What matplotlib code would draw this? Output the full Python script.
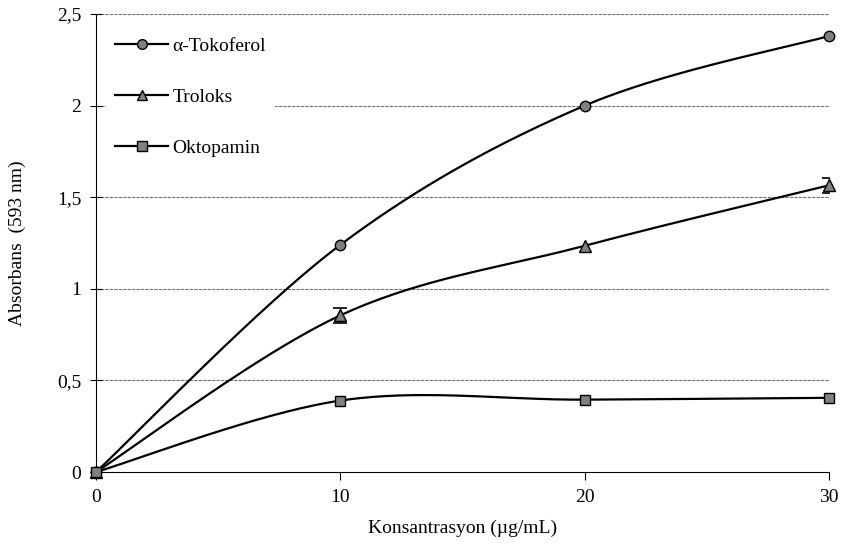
import numpy as np
import matplotlib
matplotlib.use("Agg")
import matplotlib.pyplot as plt
from matplotlib.lines import Line2D

plt.rcParams["font.family"] = ["Liberation Serif", "DejaVu Serif"]

# concentration (ug/mL) and absorbance at 593 nm
konsantrasyon = [0, 10, 20, 30]
tokoferol = [0, 1.24, 2.0, 2.38]
troloks = [0, 0.855, 1.235, 1.565]
troloks_err = [0, 0.04, 0, 0.04]
oktopamin = [0, 0.39, 0.395, 0.405]

y_ticks = [0, 0.5, 1, 1.5, 2, 2.5]
y_labels = ["0", "0,5", "1", "1,5", "2", "2,5"]
x_ticks = [0, 10, 20, 30]


def smooth(x, y, n=60):
    """Catmull-Rom style bezier smoothing (spreadsheet 'smoothed line')."""
    p = np.column_stack([x, y]).astype(float)
    pts = np.vstack([p[0], p, p[-1]])
    out = []
    t = np.linspace(0, 1, n)[:, None]
    for i in range(1, len(pts) - 2):
        p0, p1, p2, p3 = pts[i - 1], pts[i], pts[i + 1], pts[i + 2]
        c1 = p1 + (p2 - p0) / 6
        c2 = p2 - (p3 - p1) / 6
        seg = ((1 - t) ** 3) * p1 + 3 * ((1 - t) ** 2) * t * c1 + 3 * (1 - t) * t ** 2 * c2 + t ** 3 * p2
        out.append(seg if i == 1 else seg[1:])
    s = np.vstack(out)
    return s[:, 0], s[:, 1]


fig = plt.figure(figsize=(8.45, 5.52), dpi=100)
ax = fig.add_axes([0.1136, 0.1449, 0.8675, 0.8297])

for yt in y_ticks[1:]:
    ax.axhline(yt, color="#707070", lw=0.8, ls=(0, (3, 1)), zorder=1)

series = [
    ("α-Tokoferol", tokoferol, "o", 7.5),
    ("Troloks", troloks, "^", 8),
    ("Oktopamin", oktopamin, "s", 7),
]
handles = []
for name, vals, mk, ms in series:
    sx, sy = smooth(konsantrasyon, vals)
    ax.plot(sx, sy, color="black", lw=1.6, zorder=3, clip_on=False)
    ax.plot(konsantrasyon, vals, ls="none", marker=mk, ms=ms, mfc="#808080",
            mec="black", mew=1.0, zorder=5, clip_on=False)
    handles.append(Line2D([], [], color="black", lw=1.6, marker=mk, ms=ms - 0.5,
                          mfc="#808080", mec="black", mew=1.0, label=name))

ax.errorbar(konsantrasyon[1::2], troloks[1::2], yerr=troloks_err[1::2], fmt="none",
            ecolor="black", elinewidth=1.0, capsize=5, capthick=1.2, zorder=4)

ax.set_xlim(0, 30)
ax.set_ylim(0, 2.5)
ax.set_yticks(y_ticks)
ax.set_yticklabels(y_labels)
ax.set_xticks(x_ticks)
for s in ["top", "right"]:
    ax.spines[s].set_visible(False)
ax.spines["left"].set_linewidth(0.8)
ax.spines["bottom"].set_linewidth(0.8)
ax.tick_params(axis="y", direction="inout", length=9, width=0.8, labelsize=14, pad=6)
ax.tick_params(axis="x", direction="out", length=6, width=0.8, labelsize=14, pad=6)

ax.set_xlabel("Konsantrasyon (µg/mL)", fontsize=14, labelpad=10)
ax.set_ylabel("Absorbans  (593 nm)", fontsize=14, labelpad=22)

leg = ax.legend(handles=handles, loc="upper left", bbox_to_anchor=(0.014, 0.968),
                borderaxespad=0, frameon=True, fancybox=False, edgecolor="none",
                facecolor="white", framealpha=1, fontsize=14, handlelength=2.75,
                handletextpad=0.2, labelspacing=1.72, borderpad=0.45, numpoints=1)
leg.set_zorder(2)

fig.savefig("out.png", dpi=100)
